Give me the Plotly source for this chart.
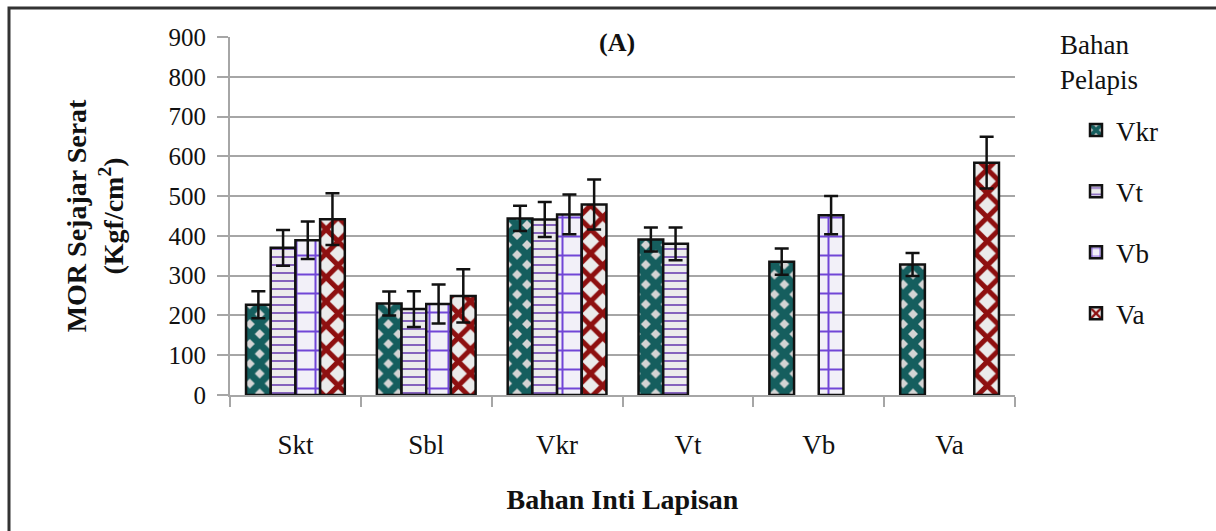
import plotly.graph_objects as go

categories = ["Skt", "Sbl", "Vkr", "Vt", "Vb", "Va"]
series_names = ["Vkr", "Vt", "Vb", "Va"]

vkr_vals = [227, 230, 444, 391, 335, 328]
vt_vals = [370, 216, 441, 380, None, None]
vb_vals = [389, 229, 454, None, 452, None]
va_vals = [442, 249, 479, None, None, 584]

vkr_err = [34, 30, 32, 30, 33, 29]
vt_err = [45, 45, 44, 41, None, None]
vb_err = [47, 49, 50, None, 48, None]
va_err = [65, 67, 63, None, None, 65]

values = [vkr_vals, vt_vals, vb_vals, va_vals]
errors = [vkr_err, vt_err, vb_err, va_err]

patterns = [
    dict(shape="x", fgcolor="#155e5e", bgcolor="#d4d4d4", size=14, solidity=0.75, fgopacity=1),
    dict(shape="-", fgcolor="#8563bd", bgcolor="#ececec", size=8, solidity=0.25, fgopacity=1),
    dict(shape="+", fgcolor="#7146d6", bgcolor="#f2f0f8", size=19, solidity=0.2, fgopacity=1),
    dict(shape="x", fgcolor="#8e1010", bgcolor="#ebebeb", size=17, solidity=0.5, fgopacity=1),
]

FONT = "Liberation Serif, Times New Roman, serif"

fig = go.Figure()
for i, name in enumerate(series_names):
    fig.add_trace(go.Bar(
        x=categories, y=values[i], name=name,
        legendgroup=name,
        marker=dict(color=patterns[i]["bgcolor"],
                    line=dict(color="#111111", width=2.5),
                    pattern=patterns[i]),
        error_y=dict(type="data", array=[e if e is not None else 0 for e in errors[i]],
                     visible=True, color="#111111", thickness=2.5, width=7),
    ))

W, H = 1216, 531
L, R, T, B = 230, 1015, 37, 395
pw, ph = R - L, B - T

def px(x):
    return (x - L) / pw

def py(y):
    return (B - y) / ph

fig.update_layout(
    width=W, height=H,
    margin=dict(l=L, r=W - R, t=T, b=H - B),
    paper_bgcolor="white", plot_bgcolor="white",
    barmode="group", bargap=0.245, bargroupgap=0,
    font=dict(family=FONT, size=25, color="#111111"),
    showlegend=True,
    legend=dict(
        x=px(1076), y=py(106), xanchor="left", yanchor="top",
        font=dict(family=FONT, size=27),
        tracegroupgap=23, itemwidth=30, maxheight=600,
        bgcolor="rgba(0,0,0,0)",
    ),
    xaxis=dict(
        showline=True, linecolor="#a6a6a6", linewidth=2,
        ticks="outside", tickson="boundaries", ticklen=10, tickcolor="#a6a6a6", tickwidth=2,
        tickfont=dict(family=FONT, size=27),
        ticklabelstandoff=25,
        title=dict(text="<b>Bahan Inti Lapisan</b>", font=dict(family=FONT, size=28), standoff=30),
        showgrid=False,
    ),
    yaxis=dict(
        range=[0, 900], dtick=100,
        showline=True, linecolor="#a6a6a6", linewidth=2,
        ticks="outside", ticklen=11, tickcolor="#a6a6a6", tickwidth=2,
        showgrid=True, gridcolor="#a6a6a6", gridwidth=1.5,
        zeroline=False,
        tickfont=dict(family=FONT, size=25),
        ticklabelstandoff=6,
        title=dict(text="<b>MOR Sejajar Serat<br>(Kgf/cm<sup>2</sup>)</b>",
                   font=dict(family=FONT, size=28), standoff=37),
    ),
    annotations=[
        dict(text="<b>(A)</b>", x=px(617), y=py(42), xref="paper", yref="paper",
             showarrow=False, font=dict(family=FONT, size=26, color="#111111"),
             xanchor="center", yanchor="middle"),
        dict(text="Bahan<br>Pelapis", x=px(1058), y=py(28), xref="paper", yref="paper",
             showarrow=False, font=dict(family=FONT, size=27, color="#111111"),
             xanchor="left", yanchor="top", align="left"),
    ],
    shapes=[
        dict(type="rect", xref="paper", yref="paper",
             x0=px(9), x1=px(1260), y0=py(8), y1=py(560),
             line=dict(color="#333333", width=3), fillcolor="rgba(0,0,0,0)", layer="above"),
    ],
)

fig.write_html("out.html")
